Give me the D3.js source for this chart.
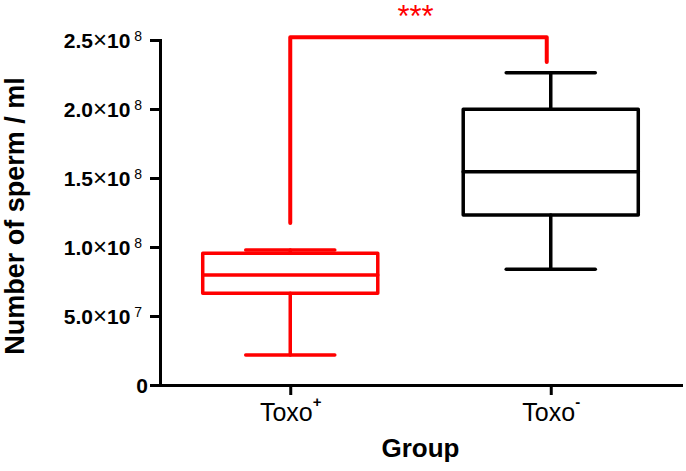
<!DOCTYPE html>
<html>
<head>
<meta charset="utf-8">
<script src="https://cdn.jsdelivr.net/npm/d3@7"></script>
<style>
  html, body { margin: 0; padding: 0; background: #fff; }
  svg { display: block; }
  svg text { font-family: "Liberation Sans", Arial, sans-serif; }
</style>
</head>
<body>
<svg id="chart"></svg>
<script>
const groups = ["Toxo+", "Toxo-"];
const whiskerLow = [2.17e7, 8.38e7];
const q1 = [6.65e7, 1.232e8];
const median = [7.97e7, 1.546e8];
const q3 = [9.54e7, 1.998e8];
const whiskerHigh = [9.78e7, 2.263e8];
const boxColors = ["#ff0000", "#000000"];

const yTicks = [0, 5e7, 1e8, 1.5e8, 2e8, 2.5e8];
// significance bracket: left foot, top, right foot
const bracketY = [1.174e8, 2.52e8, 2.34e8];
const sigLabel = "***";

const width = 686;
const height = 471;
const margin = { top: 40, right: 5, bottom: 86, left: 160 };

const svg = d3.select('#chart')
  .attr('width', width)
  .attr('height', height);

const x = d3.scalePoint()
  .domain(groups)
  .range([margin.left, width - margin.right])
  .padding(0.5);

const y = d3.scaleLinear()
  .domain([0, 2.5e8])
  .range([height - margin.bottom, margin.top]);

const step = x.step();
const boxHalf = step * 0.336;
const capHalf = step * 0.171;

// AXES
const yAxis = svg.append('g')
  .attr('transform', `translate(${margin.left},0)`)
  .call(d3.axisLeft(y).tickValues(yTicks).tickSize(10).tickSizeOuter(0));

const xAxis = svg.append('g')
  .attr('transform', `translate(0,${y(0)})`)
  .call(d3.axisBottom(x).tickSize(10).tickSizeOuter(0));

[yAxis, xAxis].forEach(a => {
  a.attr('font-family', null).attr('font-size', null);
  a.select('.domain').attr('stroke', '#000').attr('stroke-width', 3).attr('stroke-linecap', 'square');
  a.selectAll('.tick line').attr('stroke', '#000').attr('stroke-width', 3);
});

yAxis.selectAll('.tick text').each(function(d) {
  const t = d3.select(this).text(null)
    .attr('x', d === 0 ? -12 : -18)
    .attr('dy', '0.35em')
    .attr('fill', '#000')
    .attr('text-anchor', 'end')
    .attr('font-size', 21)
    .attr('font-weight', 'bold');
  if (d === 0) { t.text('0'); return; }
  const e = Math.floor(Math.log10(d));
  const m = (d / Math.pow(10, e)).toFixed(1);
  t.append('tspan').text(m);
  t.append('tspan').attr('font-weight', 'normal').attr('font-size', 24).text('×');
  t.append('tspan').text('10');
  t.append('tspan').attr('font-size', 14).attr('font-weight', 'normal').attr('dy', -7).text(' ' + e);
});

xAxis.selectAll('.tick text').each(function(d) {
  const t = d3.select(this).text(null)
    .attr('y', 36)
    .attr('dy', 0)
    .attr('fill', '#000')
    .attr('font-size', 25);
  t.append('tspan').text(d.slice(0, -1));
  t.append('tspan').attr('font-size', 15).attr('font-weight', 'bold').attr('dy', -14).text(d.slice(-1));
});

// BOXES
const box = svg.selectAll('.box')
  .data(groups)
  .enter().append('g')
  .attr('class', 'box')
  .attr('fill', 'none')
  .attr('stroke', (d, i) => boxColors[i])
  .attr('stroke-width', 3.5)
  .attr('stroke-linecap', 'round')
  .attr('stroke-linejoin', 'round');

box.append('line')
  .attr('x1', d => x(d)).attr('x2', d => x(d))
  .attr('y1', (d, i) => y(whiskerLow[i])).attr('y2', (d, i) => y(q1[i]));
box.append('line')
  .attr('x1', d => x(d)).attr('x2', d => x(d))
  .attr('y1', (d, i) => y(q3[i])).attr('y2', (d, i) => y(whiskerHigh[i]));
box.append('line')
  .attr('x1', d => x(d) - capHalf).attr('x2', d => x(d) + capHalf)
  .attr('y1', (d, i) => y(whiskerLow[i])).attr('y2', (d, i) => y(whiskerLow[i]));
box.append('line')
  .attr('x1', d => x(d) - capHalf).attr('x2', d => x(d) + capHalf)
  .attr('y1', (d, i) => y(whiskerHigh[i])).attr('y2', (d, i) => y(whiskerHigh[i]));
box.append('rect')
  .attr('x', d => x(d) - boxHalf)
  .attr('width', boxHalf * 2)
  .attr('y', (d, i) => y(q3[i]))
  .attr('height', (d, i) => y(q1[i]) - y(q3[i]));
box.append('line')
  .attr('x1', d => x(d) - boxHalf).attr('x2', d => x(d) + boxHalf)
  .attr('y1', (d, i) => y(median[i])).attr('y2', (d, i) => y(median[i]));

// SIGNIFICANCE
const bx0 = x(groups[0]);
const bx1 = x(groups[1]) - 4;
svg.append('path')
  .attr('d', d3.line()([
    [bx0, y(bracketY[0])], [bx0, y(bracketY[1])],
    [bx1, y(bracketY[1])], [bx1, y(bracketY[2])]
  ]))
  .attr('fill', 'none')
  .attr('stroke', '#ff0000')
  .attr('stroke-width', 4)
  .attr('stroke-linecap', 'round')
  .attr('stroke-linejoin', 'round');

svg.append('text')
  .attr('x', (bx0 + bx1) / 2 - 3)
  .attr('y', 27)
  .attr('text-anchor', 'middle')
  .attr('font-size', 31)
  .attr('fill', '#ff0000')
  .text(sigLabel);

// TITLES
svg.append('text')
  .attr('transform', `translate(24,216) rotate(-90)`)
  .attr('text-anchor', 'middle')
  .attr('font-size', 27)
  .attr('font-weight', 'bold')
  .text('Number of sperm / ml');

svg.append('text')
  .attr('x', (margin.left + width - margin.right) / 2)
  .attr('y', 457)
  .attr('text-anchor', 'middle')
  .attr('font-size', 26)
  .attr('font-weight', 'bold')
  .text('Group');
</script>
</body>
</html>
